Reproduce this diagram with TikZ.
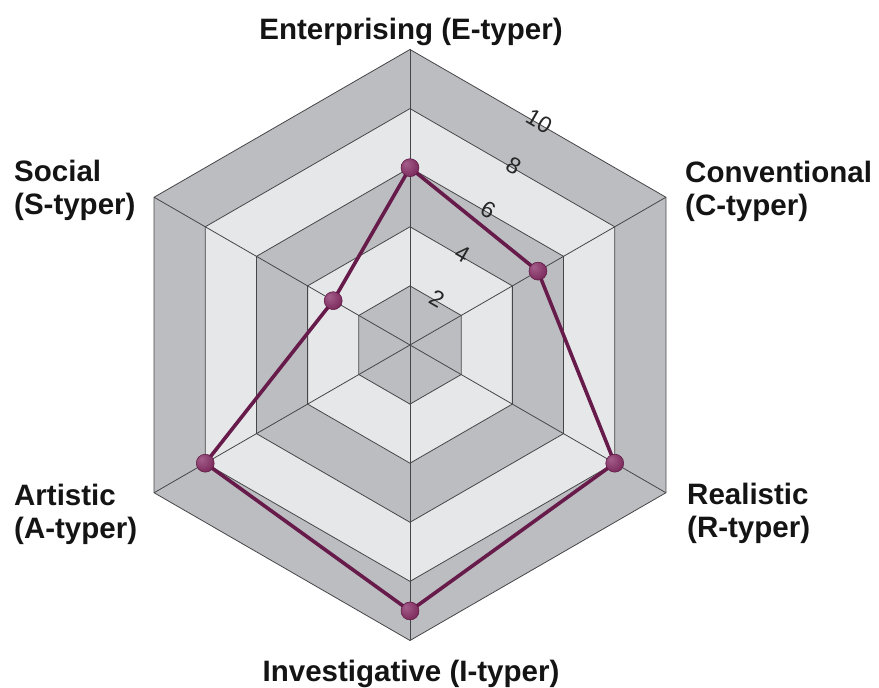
\documentclass[tikz,border=0pt]{standalone}
\usepackage{fontspec}
\setmainfont{Liberation Sans}
\usetikzlibrary{calc}
\definecolor{ringdark}{RGB}{188,189,193}
\definecolor{ringlight}{RGB}{230,231,233}
\definecolor{gridline}{RGB}{70,70,72}
\definecolor{datapurple}{RGB}{103,27,74}
\definecolor{dotlight}{RGB}{165,95,140}
\definecolor{dotmid}{RGB}{125,45,95}
\definecolor{dotdark}{RGB}{90,22,62}
\pgfdeclareradialshading{dotshade}{\pgfpoint{-12bp}{12bp}}{color(0bp)=(dotlight); color(30bp)=(dotmid); color(62bp)=(dotdark)}
\begin{document}
\begin{tikzpicture}[x=1pt,y=1pt,
  axislabel/.style={font=\fontsize{29.5}{33}\selectfont\bfseries, text=black!92, inner sep=0pt, align=left},
  ticklabel/.style={font=\fontsize{23}{26}\selectfont, text=black!85, inner sep=0pt, rotate=-30},
  datadot/.style={circle, minimum size=18pt, inner sep=0pt, draw=dotdark, line width=0.5pt, shading=dotshade},
  gridstroke/.style={draw=gridline, line width=0.8pt},
  dataline/.style={draw=datapurple, line width=3.6pt, line join=round}]
\useasboundingbox (0,0) rectangle (879,688);
\fill[white] (0,0) rectangle (879,688);
\coordinate (O) at (410,343);
\def\u{29.55}
% rings
\foreach \lv/\col in {10/ringdark,8/ringlight,6/ringdark,4/ringlight,2/ringdark}{
  \pgfmathsetmacro\r{\lv*\u}
  \path[fill=\col, shift={(O)}] (90:\r) -- (30:\r) -- (-30:\r) -- (-90:\r) -- (-150:\r) -- (150:\r) -- cycle;
}
% grid hexagons
\foreach \lv in {2,4,6,8,10}{
  \pgfmathsetmacro\r{\lv*\u}
  \path[gridstroke, shift={(O)}] (90:\r) -- (30:\r) -- (-30:\r) -- (-90:\r) -- (-150:\r) -- (150:\r) -- cycle;
}
% spokes
\foreach \a in {90,30,-30,-90,-150,150}{
  \pgfmathsetmacro\r{10*\u}
  \path[gridstroke, shift={(O)}] (0,0) -- (\a:\r);
}
% tick labels
\foreach \lv in {2,4,6,8,10}{
  \pgfmathsetmacro\r{0.866*\lv*\u+2.5}
  \node[ticklabel] (t\lv) at ($(O)+(60:\r)$) {\lv};
}
% data
\coordinate (vE) at ($(O)+(90:{6*\u})$);
\coordinate (vC) at ($(O)+(30:{5*\u})$);
\coordinate (vR) at ($(O)+(-30:{8*\u})$);
\coordinate (vI) at ($(O)+(-90:{9*\u})$);
\coordinate (vA) at ($(O)+(-150:{8*\u})$);
\coordinate (vS) at ($(O)+(150:{3*\u})$);
\draw[dataline] (vE) -- (vC) -- (vR) -- (vI) -- (vA) -- (vS) -- cycle;
\foreach \p in {E,C,R,I,A,S}{
  \node[datadot] (p\p) at (v\p) {};
}
% axis labels
\node[axislabel, anchor=base] (lE) at (411,648) {Enterprising (E-typer)};
\node[axislabel, anchor=base] (lI) at (411,6) {Investigative (I-typer)};
\node[axislabel, anchor=base west] (lS) at (14,473) {Social\\(S-typer)};
\node[axislabel, anchor=base west] (lC) at (685,472) {Conventional\\(C-typer)};
\node[axislabel, anchor=base west] (lA) at (14,149) {Artistic\\(A-typer)};
\node[axislabel, anchor=base west] (lR) at (687,150) {Realistic\\(R-typer)};
\end{tikzpicture}
\end{document}
